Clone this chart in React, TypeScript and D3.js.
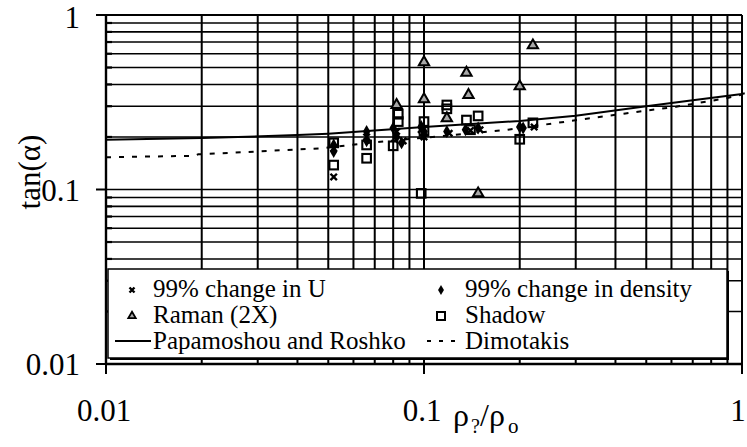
import React from "react";
import * as d3 from "d3";

// ---- data ----
const uX = [0.052, 0.052, 0.066, 0.082, 0.086, 0.1, 0.098, 0.12, 0.14, 0.15, 0.222];
const uY = [0.118, 0.172, 0.2, 0.215, 0.19, 0.2, 0.22, 0.21, 0.218, 0.22, 0.228];

const densX = [0.052, 0.052, 0.066, 0.066, 0.08, 0.082, 0.085, 0.098, 0.1, 0.1, 0.118, 0.135, 0.148, 0.2, 0.205];
const densY = [0.18, 0.165, 0.215, 0.19, 0.225, 0.2, 0.185, 0.23, 0.215, 0.205, 0.215, 0.22, 0.225, 0.228, 0.225];

const ramanX = [0.082, 0.1, 0.1, 0.118, 0.136, 0.138, 0.148, 0.2, 0.22];
const ramanY = [0.305, 0.536, 0.329, 0.256, 0.467, 0.348, 0.095, 0.39, 0.67];

const shadowX = [0.052, 0.052, 0.066, 0.066, 0.08, 0.083, 0.083, 0.1, 0.1, 0.098, 0.118, 0.118, 0.136, 0.148, 0.14, 0.2, 0.22];
const shadowY = [0.185, 0.138, 0.18, 0.151, 0.178, 0.27, 0.245, 0.245, 0.215, 0.095, 0.305, 0.29, 0.25, 0.264, 0.22, 0.194, 0.241];

const prX = [0.01, 0.02, 0.04, 0.05, 0.1, 0.2, 0.3, 0.5, 0.7, 1.0, 1.02];
const prY = [0.193, 0.197, 0.205, 0.209, 0.228, 0.247, 0.265, 0.3, 0.325, 0.353, 0.356];

const dimX = [0.01, 0.019, 0.0195, 0.047, 0.073, 0.1, 0.18, 0.28, 0.43, 0.62, 0.89, 1.0];
const dimY = [0.153, 0.156, 0.159, 0.172, 0.188, 0.198, 0.219, 0.245, 0.273, 0.298, 0.333, 0.35];

const xTickVals = [0.01, 0.1, 1];
const xTickLabels = ["0.01", "0.1", "1"];
const yTickVals = [0.01, 0.1, 1];
const yTickLabels = ["0.01", "0.1", "1"];

const legendLabels = [
  "99% change in U",
  "99% change in density",
  "Raman (2X)",
  "Shadow",
  "Papamoshou and Roshko",
  "Dimotakis",
];

const FONT = "'Liberation Serif'";

export default function App() {
  const W = 747, H = 447;
  const x = d3.scaleLog().domain([0.01, 1]).range([106, 742]);
  const y = d3.scaleLog().domain([0.01, 1]).range([364, 15]);

  const minors: number[] = [];
  [0.01, 0.1].forEach((b) => {
    for (let k = 2; k <= 9; k++) minors.push(b * k);
  });
  const gridVals = [...minors, 0.1, 1];

  const line = d3
    .line<[number, number]>()
    .x((d) => x(d[0]))
    .y((d) => y(d[1]));
  const prPath = line(prX.map((v, i) => [v, prY[i]]))!;
  const dimPath = line(dimX.map((v, i) => [v, dimY[i]]))!;

  const tri = d3.symbol(d3.symbolTriangle, 46)()!;
  const triS = d3.symbol(d3.symbolTriangle, 24)()!;
  const dia = d3.symbol(d3.symbolDiamond, 48)()!;
  const diaS = d3.symbol(d3.symbolDiamond, 30)()!;

  const xMark = (cx: number, cy: number, s: number, key: any) => (
    <path
      key={key}
      d={`M${cx - s},${cy - s}L${cx + s},${cy + s}M${cx - s},${cy + s}L${cx + s},${cy - s}`}
      stroke="#000"
      strokeWidth={2.4}
    />
  );

  const lgL = 108, lgT = 269, lgR = 727, lgB = 358;
  const rows = [297, 323, 349];
  const c1m = 132, c1t = 153, c2m = 441, c2t = 465;
  const ts = { fontFamily: FONT };
  const yLabelY = [y(0.01) + 11, y(0.1) + 11, 28];

  return (
    <svg width={W} height={H} style={{ position: "absolute", left: 0, top: 0, background: "#fff" }}>
      <rect x={0} y={0} width={W} height={H} fill="#fff" />
      {/* vertical grid */}
      {gridVals.map((v, i) => (
        <line key={"vg" + i} x1={x(v)} x2={x(v)} y1={y(1)} y2={y(0.01)} stroke="#000" strokeWidth={2} />
      ))}
      {/* horizontal grid */}
      {gridVals.map((v, i) => (
        <line key={"hg" + i} x1={x(0.01)} x2={x(1)} y1={y(v)} y2={y(v)} stroke="#000" strokeWidth={1.6} />
      ))}
      {/* axes */}
      <line x1={x(0.01)} x2={x(0.01)} y1={y(1)} y2={y(0.01)} stroke="#000" strokeWidth={2.4} />
      <line x1={x(0.01)} x2={x(1)} y1={y(0.01)} y2={y(0.01)} stroke="#000" strokeWidth={2.4} />
      <line x1={x(0.01)} x2={x(1)} y1={y(1)} y2={y(1)} stroke="#000" strokeWidth={2.2} />
      {/* ticks */}
      {yTickVals.map((v, i) => (
        <line key={"yt" + i} x1={x(0.01) - 10} x2={x(0.01)} y1={y(v)} y2={y(v)} stroke="#000" strokeWidth={2} />
      ))}
      {minors.map((v, i) => (
        <line key={"ym" + i} x1={x(0.01)} x2={x(0.01) + 6} y1={y(v)} y2={y(v)} stroke="#000" strokeWidth={2.2} />
      ))}
      {xTickVals.map((v, i) => (
        <line key={"xt" + i} x1={x(v)} x2={x(v)} y1={y(0.01)} y2={y(0.01) + 10} stroke="#000" strokeWidth={2} />
      ))}
      {/* tick labels */}
      {yTickVals.map((v, i) => (
        <text key={"yl" + i} x={80} y={yLabelY[i]} textAnchor="end" fontSize={31} style={ts}>
          {yTickLabels[i]}
        </text>
      ))}
      {xTickVals.map((v, i) => (
        <text key={"xl" + i} x={i === 2 ? x(v) - 4 : x(v) - 2} y={421} textAnchor="middle" fontSize={31} style={ts}>
          {xTickLabels[i]}
        </text>
      ))}
      {/* axis titles */}
      <text y={426} fontSize={32} style={ts}>
        <tspan x={453}>ρ</tspan>
        <tspan x={471} y={433} fontSize={20}>?</tspan>
        <tspan x={480} y={426}>/ρ</tspan>
        <tspan x={508} y={433} fontSize={21}>o</tspan>
      </text>
      <text transform="translate(40,172) rotate(-90)" textAnchor="middle" fontSize={31} style={ts}>
        tan(α)
      </text>

      {/* curves */}
      <path d={prPath} fill="none" stroke="#000" strokeWidth={2} />
      <path d={dimPath} fill="none" stroke="#000" strokeWidth={2} strokeDasharray="5,8" />

      {/* markers */}
      {uX.map((v, i) => xMark(x(v), y(uY[i]), 3.2, "u" + i))}
      {densX.map((v, i) => (
        <path key={"d" + i} d={dia} transform={`translate(${x(v)},${y(densY[i])})`} fill="#000" />
      ))}
      {ramanX.map((v, i) => (
        <path key={"r" + i} d={tri} transform={`translate(${x(v)},${y(ramanY[i])})`} fill="#a8a8a8" stroke="#000" strokeWidth={2} />
      ))}
      {shadowX.map((v, i) => (
        <rect key={"s" + i} x={x(v) - 4.3} y={y(shadowY[i]) - 4.3} width={8.6} height={8.6} fill="none" stroke="#000" strokeWidth={2.1} />
      ))}

      {/* legend */}
      <rect x={lgL + 2} y={lgT + 2} width={lgR - lgL} height={lgB - lgT} fill="#000" />
      <rect x={lgL} y={lgT} width={lgR - lgL} height={lgB - lgT} fill="#fff" stroke="#000" strokeWidth={1.5} />
      {xMark(c1m, rows[0] - 7, 2.5, "lgu")}
      <path d={diaS} transform={`translate(${c2m},${rows[0] - 7})`} fill="#000" />
      <path d={triS} transform={`translate(${c1m},${rows[1] - 7})`} fill="#a8a8a8" stroke="#000" strokeWidth={1.8} />
      <rect x={c2m - 4} y={rows[1] - 11} width={8} height={8} fill="none" stroke="#000" strokeWidth={2} />
      <line x1={115} x2={151} y1={rows[2] - 8} y2={rows[2] - 8} stroke="#000" strokeWidth={2} />
      <line x1={427} x2={460} y1={rows[2] - 8} y2={rows[2] - 8} stroke="#000" strokeWidth={2} strokeDasharray="4,8" />
      <text x={c1t} y={rows[0]} fontSize={25} style={ts}>{legendLabels[0]}</text>
      <text x={c2t} y={rows[0]} fontSize={25} style={ts}>{legendLabels[1]}</text>
      <text x={c1t} y={rows[1]} fontSize={25} style={ts}>{legendLabels[2]}</text>
      <text x={c2t} y={rows[1]} fontSize={25} style={ts}>{legendLabels[3]}</text>
      <text x={c1t} y={rows[2]} fontSize={25} style={ts}>{legendLabels[4]}</text>
      <text x={c2t} y={rows[2]} fontSize={25} style={ts}>{legendLabels[5]}</text>
    </svg>
  );
}
